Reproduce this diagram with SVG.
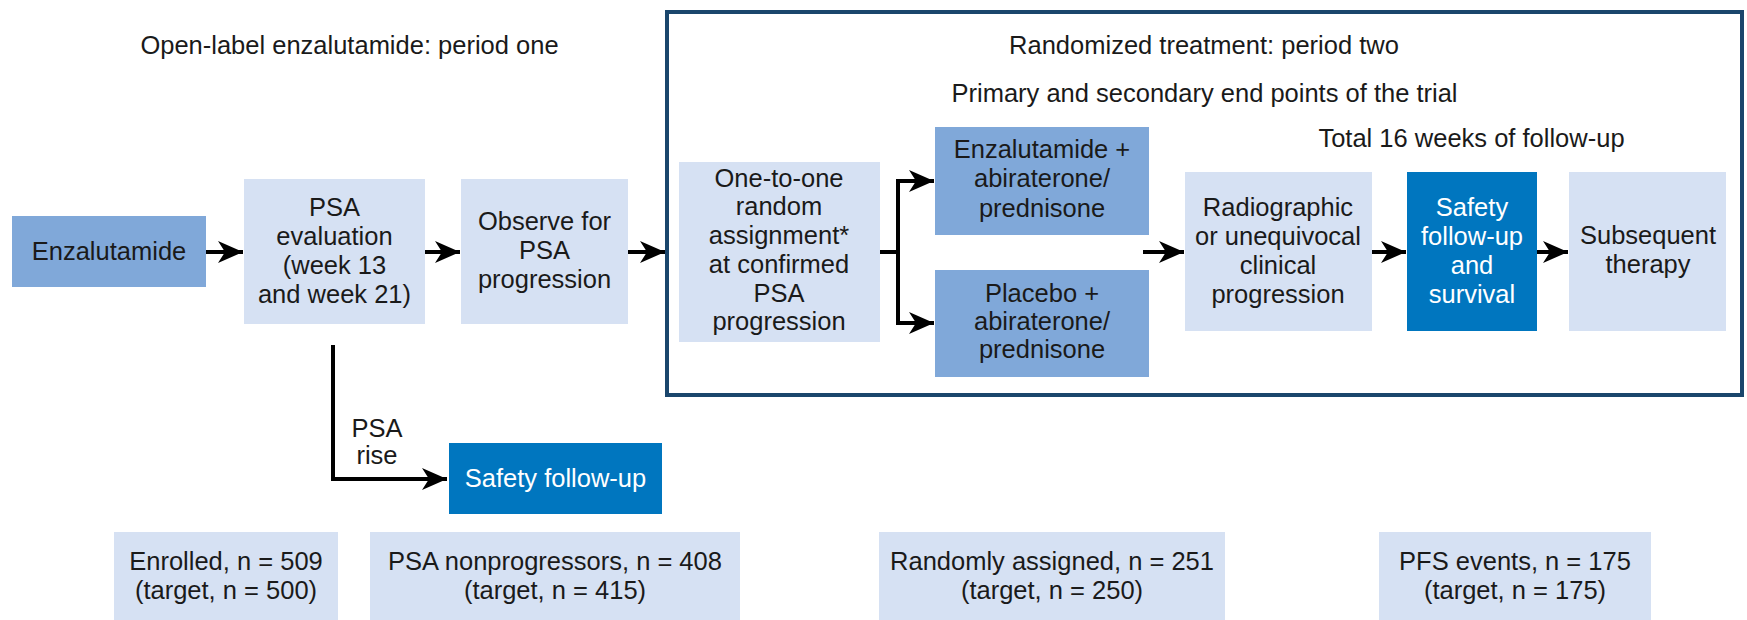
<svg xmlns="http://www.w3.org/2000/svg" width="1747" height="620" viewBox="0 0 1747 620">
<style>
text{font-family:"Liberation Sans",Arial,sans-serif;font-size:25.5px;fill:#1a1a1a;text-anchor:middle}
.light{fill:#d6e1f3}
.mid{fill:#80a8d9}
.dark{fill:#0076bf}
.w{fill:#ffffff}
.conn{fill:none;stroke:#000;stroke-width:4;stroke-linejoin:miter}
.frame{fill:none;stroke:#1a466c;stroke-width:4}
</style>
<defs>
<marker id="ah" markerUnits="userSpaceOnUse" markerWidth="26" markerHeight="24" refX="25" refY="12" orient="auto" viewBox="0 0 26 24">
<path d="M0,1 L25,12 L0,23 L7,12 Z" fill="#000"/>
</marker>
</defs>
<rect width="1747" height="620" fill="#ffffff"/>
<g id="labels">
<text x="349.5" y="54">Open-label enzalutamide: period one</text>
<text x="1204" y="54">Randomized treatment: period two</text>
<text x="1204.5" y="102">Primary and secondary end points of the trial</text>
<text x="1471.5" y="147">Total 16 weeks of follow-up</text>
</g>
<g id="period-two-frame"><rect class="frame" x="667" y="12" width="1075" height="383"/></g>
<g id="n-enzalutamide"><rect class="mid" x="12" y="216" width="194" height="71"/><text x="109" y="260">Enzalutamide</text></g>
<g id="n-psa-eval"><rect class="light" x="244" y="179" width="181" height="145"/>
<text x="334.5" y="216">PSA</text><text x="334.5" y="245">evaluation</text><text x="334.5" y="274">(week 13</text><text x="334.5" y="303">and week 21)</text></g>
<g id="n-observe"><rect class="light" x="461" y="179" width="167" height="145"/>
<text x="544.5" y="230">Observe for</text><text x="544.5" y="259">PSA</text><text x="544.5" y="288">progression</text></g>
<g id="n-random"><rect class="light" x="679" y="162" width="201" height="180"/>
<text x="779" y="187">One-to-one</text><text x="779" y="215">random</text><text x="779" y="244">assignment*</text><text x="779" y="273">at confirmed</text><text x="779" y="302">PSA</text><text x="779" y="330">progression</text></g>
<g id="n-enza-abi"><rect class="mid" x="935" y="127" width="214" height="108"/>
<text x="1042" y="158">Enzalutamide +</text><text x="1042" y="187">abiraterone/</text><text x="1042" y="217">prednisone</text></g>
<g id="n-placebo-abi"><rect class="mid" x="935" y="270" width="214" height="107"/>
<text x="1042" y="302">Placebo +</text><text x="1042" y="330">abiraterone/</text><text x="1042" y="358">prednisone</text></g>
<g id="n-radiographic"><rect class="light" x="1185" y="172" width="187" height="159"/>
<text x="1278" y="216">Radiographic</text><text x="1278" y="245">or unequivocal</text><text x="1278" y="274">clinical</text><text x="1278" y="303">progression</text></g>
<g id="n-safety-survival"><rect class="dark" x="1407" y="172" width="130" height="159"/>
<text class="w" x="1472" y="216">Safety</text><text class="w" x="1472" y="245">follow-up</text><text class="w" x="1472" y="274">and</text><text class="w" x="1472" y="303">survival</text></g>
<g id="n-subsequent"><rect class="light" x="1569" y="172" width="157" height="159"/>
<text x="1648" y="244">Subsequent</text><text x="1648" y="273">therapy</text></g>
<g id="n-safety"><rect class="dark" x="449" y="443" width="213" height="71"/>
<text class="w" x="555.5" y="487">Safety follow-up</text></g>
<g id="n-enrolled"><rect class="light" x="114" y="532" width="224" height="88"/>
<text x="226" y="570">Enrolled, n = 509</text><text x="226" y="599">(target, n = 500)</text></g>
<g id="n-nonprog"><rect class="light" x="370" y="532" width="370" height="88"/>
<text x="555" y="570">PSA nonprogressors, n = 408</text><text x="555" y="599">(target, n = 415)</text></g>
<g id="n-randomized"><rect class="light" x="879" y="532" width="346" height="88"/>
<text x="1052" y="570">Randomly assigned, n = 251</text><text x="1052" y="599">(target, n = 250)</text></g>
<g id="n-pfs"><rect class="light" x="1379" y="532" width="272" height="88"/>
<text x="1515" y="570">PFS events, n = 175</text><text x="1515" y="599">(target, n = 175)</text></g>
<g id="connectors">
<path class="conn" d="M206,252 H243" marker-end="url(#ah)"/>
<path class="conn" d="M425,252 H460" marker-end="url(#ah)"/>
<path class="conn" d="M628,252 H665" marker-end="url(#ah)"/>
<path class="conn" d="M880,252 H898 V181 H934" marker-end="url(#ah)"/>
<path class="conn" d="M880,252 H898 V323 H934" marker-end="url(#ah)"/>
<path class="conn" d="M1143,252 H1184" marker-end="url(#ah)"/>
<path class="conn" d="M1372,252 H1406" marker-end="url(#ah)"/>
<path class="conn" d="M1537,252 H1568" marker-end="url(#ah)"/>
<path class="conn" d="M333,345 V479 H447" marker-end="url(#ah)"/>
<text x="377" y="437">PSA</text><text x="377" y="464">rise</text>
</g>
</svg>
